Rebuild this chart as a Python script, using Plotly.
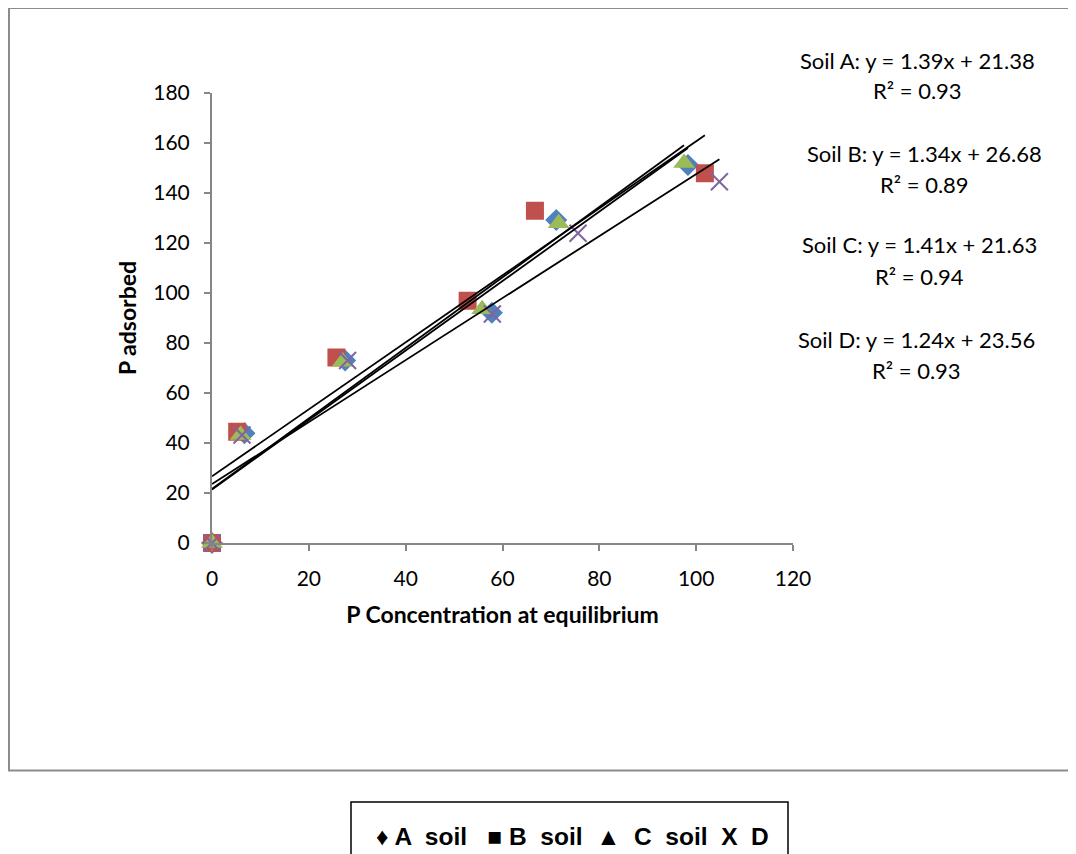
import plotly.graph_objects as go

# ---- data ----
a_x = [0, 6.7, 27.5, 57.8, 71.1, 98.3]
a_y = [0, 43.9, 73.0, 92.1, 129.2, 151.2]
b_x = [0, 5.2, 25.7, 52.8, 66.7, 101.8]
b_y = [0, 44.5, 74.2, 96.9, 132.9, 147.9]
c_x = [0, 5.9, 27.0, 55.8, 71.6, 97.5]
c_y = [0, 43.2, 72.5, 93.5, 127.9, 152.0]
d_x = [0, 6.2, 28.0, 57.9, 75.6, 104.8]
d_y = [0, 43.2, 73.0, 91.6, 123.9, 144.5]

series_names = ["A soil", "B soil", "C soil", "D"]
slopes = [1.39, 1.34, 1.41, 1.24]
intercepts = [21.38, 26.68, 21.63, 23.56]
r2 = [0.93, 0.89, 0.94, 0.93]
eq_labels = ["Soil A", "Soil B", "Soil C", "Soil D"]

x_ticks = [0, 20, 40, 60, 80, 100, 120]
y_ticks = [0, 20, 40, 60, 80, 100, 120, 140, 160, 180]

colors = ["#4F81BD", "#C0504D", "#9BBB59", "#8064A2"]
symbols = ["diamond", "square", "triangle-up", "x-thin-open"]
sizes = [17, 18, 19, 17]

xs = [a_x, b_x, c_x, d_x]
ys = [a_y, b_y, c_y, d_y]

fig = go.Figure()

for i in range(4):
    marker = dict(color=colors[i], symbol=symbols[i], size=sizes[i])
    if symbols[i] == "x-thin-open":
        marker["line"] = dict(color=colors[i], width=2)
    fig.add_trace(go.Scatter(x=xs[i], y=ys[i], mode="markers", name=series_names[i],
                             marker=marker, cliponaxis=False, showlegend=False))

for i in range(4):
    x0, x1 = 0, max(xs[i])
    fig.add_trace(go.Scatter(x=[x0, x1], y=[intercepts[i] + slopes[i] * x0, intercepts[i] + slopes[i] * x1],
                             mode="lines", line=dict(color="black", width=1.8),
                             showlegend=False, hoverinfo="skip", cliponaxis=False))

font_main = "Lato, Carlito, Calibri, sans-serif"

# page offset (body margin) of 8px
OFF = 8
L, R, T, B = 212 - OFF, 793 - OFF, 93 - OFF, 543 - OFF
W, H = 1076, 854
def px(x):
    return (x - OFF - L) / (R - L)
def py(y):
    return (B - (y - OFF)) / (B - T)

eq_pos = [(917, 60, 90), (924, 153, 184), (919, 245, 276), (916, 339, 370)]
for i in range(4):
    cx, y1, y2 = eq_pos[i]
    fig.add_annotation(x=px(cx), y=py(y1), xref="paper", yref="paper", showarrow=False,
                       text=f"{eq_labels[i]}: y = {slopes[i]:.2f}x + {intercepts[i]:.2f}",
                       font=dict(family=font_main, size=22, color="black"),
                       xanchor="center", yanchor="middle")
    fig.add_annotation(x=px(cx), y=py(y2), xref="paper", yref="paper", showarrow=False,
                       text=f"R² = {r2[i]:.2f}",
                       font=dict(family=font_main, size=22, color="black"),
                       xanchor="center", yanchor="middle")

# outer chart border
fig.add_shape(type="rect", xref="paper", yref="paper",
              x0=px(9), x1=px(1100), y0=py(770.5), y1=py(8),
              line=dict(color="#8C8C8C", width=2), layer="below")

# legend box
fig.add_shape(type="rect", xref="paper", yref="paper",
              x0=px(351), x1=px(788), y0=py(880), y1=py(802),
              line=dict(color="black", width=1.5))
fig.add_annotation(x=px(572), y=py(836), xref="paper", yref="paper", showarrow=False,
                   text="<b>♦ A  soil   ■ B  soil  ▲  C  soil  X  D</b>",
                   font=dict(family="Liberation Sans, Arial, sans-serif", size=24.5, color="black"),
                   xanchor="center", yanchor="middle")

axis_common = dict(showgrid=False, zeroline=False, showline=True, linecolor="#868686", linewidth=2,
                   ticks="outside", ticklen=6, tickcolor="#868686", tickwidth=2,
                   tickfont=dict(family=font_main, size=21, color="black"))

fig.update_layout(
    width=W, height=H,
    margin=dict(l=L, r=W - R, t=T, b=H - B, pad=0),
    paper_bgcolor="white", plot_bgcolor="white",
    showlegend=False,
    xaxis=dict(range=[0, 120], tickvals=x_ticks, ticklabelstandoff=10, **axis_common,
               title=dict(text="<b>P Concentration at equilibrium</b>",
                          font=dict(family=font_main, size=23, color="black"), standoff=18)),
    yaxis=dict(range=[0, 180], tickvals=y_ticks, ticklabelstandoff=10, **axis_common,
               title=dict(text="<b>P adsorbed</b>",
                          font=dict(family=font_main, size=23, color="black"), standoff=10)),
)

fig.write_html("out.html")
